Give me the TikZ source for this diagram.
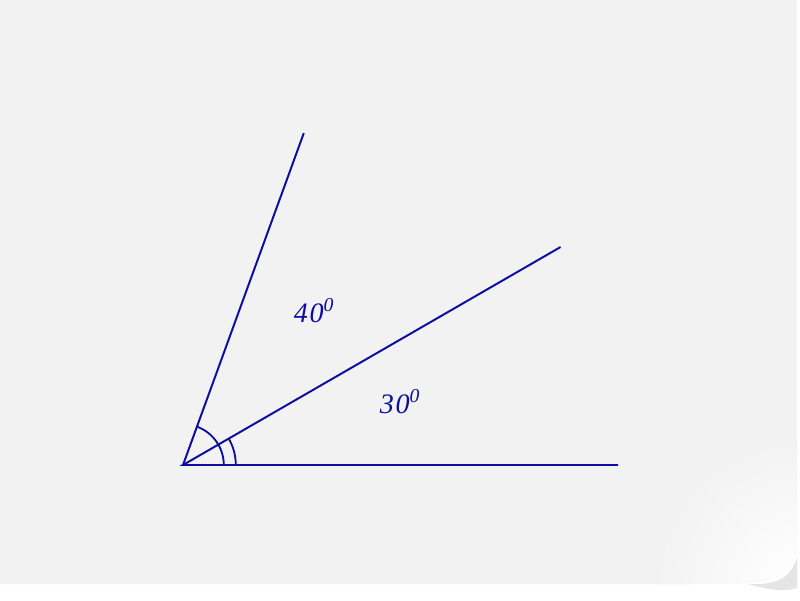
\documentclass[tikz,border=0pt]{standalone}
\usepackage{fontspec}
\setmainfont{Liberation Serif}
\usetikzlibrary{calc}
\definecolor{tinte}{HTML}{0D0DA3}
\definecolor{papier}{HTML}{F2F2F2}
\definecolor{schatten}{HTML}{D4D4D4}
\tikzset{
  strahl/.style={tinte,line width=1.4pt},
  bogen/.style={tinte,line width=1.3pt},
  winkel/.style={tinte,font=\fontsize{20}{22}\selectfont\itshape\addfontfeatures{LetterSpace=6},anchor=base,inner sep=0pt},
  blatt/.style={insert path={(0,15) -- (19.93,15) -- (19.93,1.3) .. controls (19.8,0.75) and (19.5,0.5) .. (18.9,0.45)
    .. controls (18.4,0.4) and (17.8,0.4) .. (17,0.4) -- (0,0.4) -- cycle}},
}

\begin{document}
\begin{tikzpicture}
  % Blatt mit eingerollter Ecke
  \fill[white] (0,0) rectangle (20,15);
  \fill[schatten,opacity=0.6] (18.7,0.4) .. controls (19.4,0.36) and (19.8,0.55) .. (19.93,1.1)
    -- (19.93,0.3) .. controls (19.6,0.2) and (19.2,0.25) .. cycle;
  \fill[papier,blatt];
  \begin{scope}
    \clip[blatt];
    \shade[inner color=white,outer color=papier] (19.9,0.5) circle (3.5);
  \end{scope}
  \useasboundingbox (0,0) rectangle (20,15);
  % Winkel
  \coordinate (O) at (4.575,3.375);
  \coordinate (A) at (15.45,3.375);
  \coordinate (B) at ($(O)+(30:10.9)$);
  \coordinate (C) at ($(O)+(70:8.83)$);
  \draw[strahl] (A) -- (O) -- (B);
  \draw[strahl] (O) -- (C);
  \draw[bogen] ($(O)+(1.02,0)$) arc (0:70:1.02);
  \draw[bogen] ($(O)+(1.32,0)$) arc (0:30:1.32);
  \node[winkel] (w40) at (7.85,6.95) {40\textsuperscript{0}};
  \node[winkel] (w30) at (10.0,4.675) {30\textsuperscript{0}};
\end{tikzpicture}
\end{document}
